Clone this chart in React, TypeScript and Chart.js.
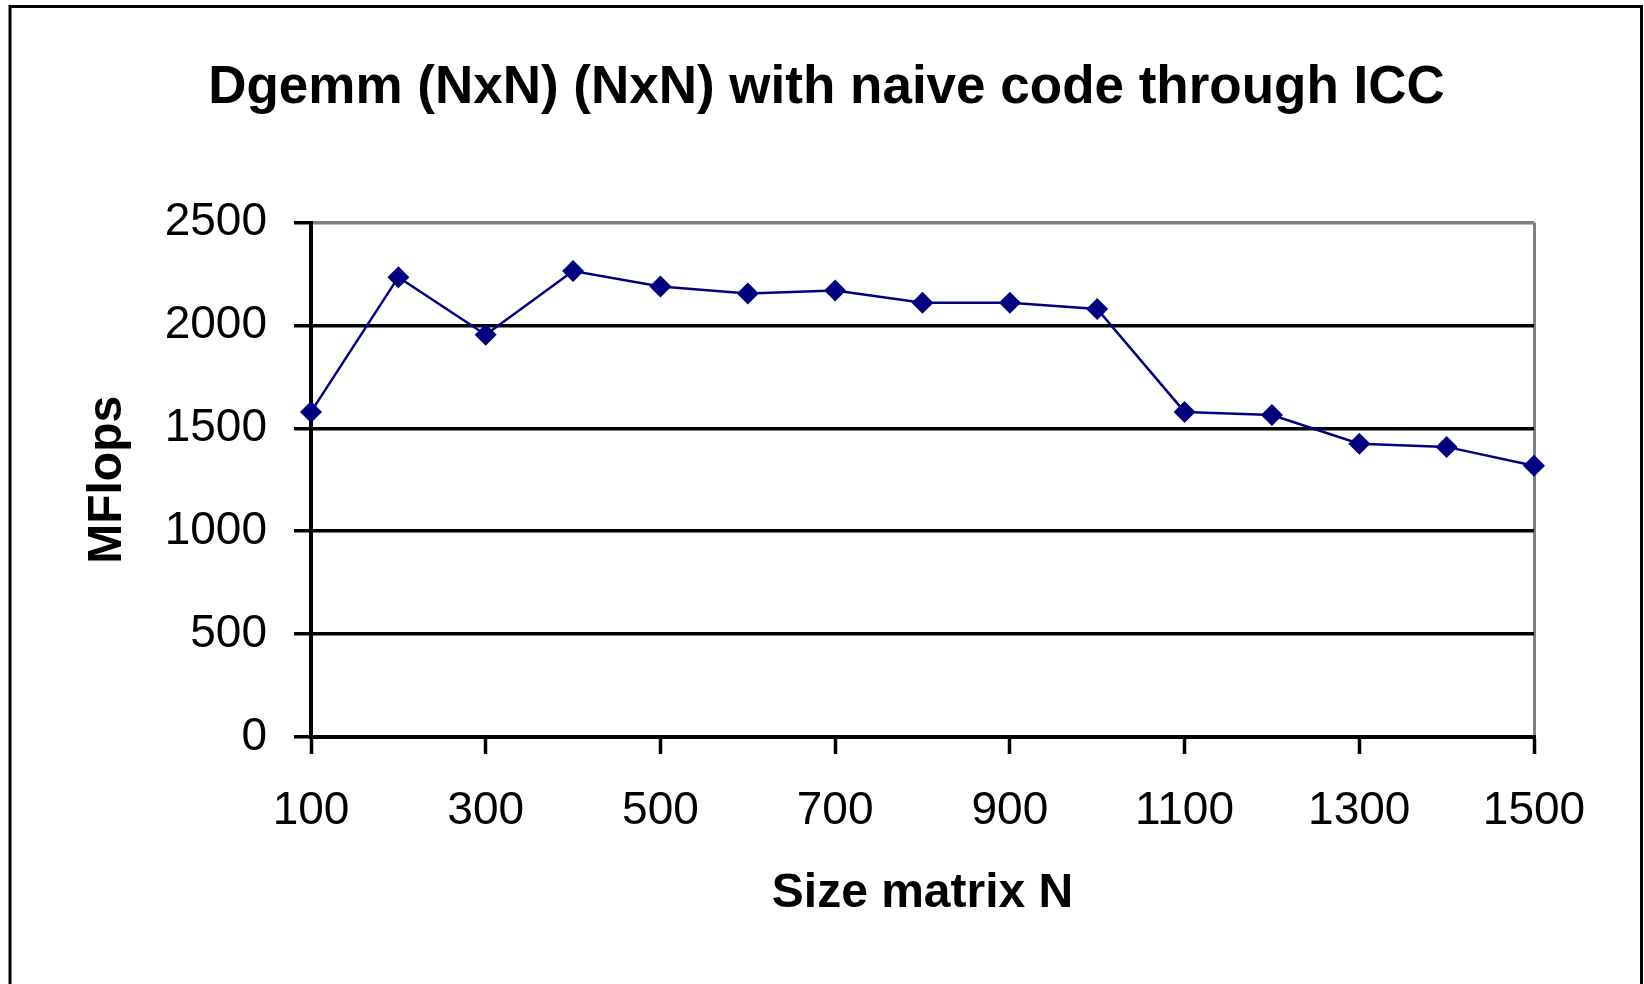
import { useEffect, useRef } from "react";
import { Chart, registerables } from "chart.js";

Chart.register(...registerables);

// Matrix size N (x) and measured MFlops (y)
const sizes = [100, 200, 300, 400, 500, 600, 700, 800, 900, 1000, 1100, 1200, 1300, 1400, 1500];
const mflops = [1580, 2235, 1955, 2265, 2190, 2155, 2170, 2110, 2110, 2080, 1580, 1565, 1425, 1410, 1318];

const xRange = [100, 1500];
const xStep = 200;
const yRange = [0, 2500];
const yStep = 500;

const chartTitle = "Dgemm (NxN) (NxN) with naive code through ICC";
const xAxisTitle = "Size matrix N";
const yAxisTitle = "MFlops";

const FONT = "'Liberation Sans', Arial, sans-serif";
const NAVY = "#000080";
const GRAY = "#808080";
const W = 1644;
const H = 984;

// Outer black frame around the whole chart (open at the bottom)
const framePlugin = {
  id: "frame",
  afterDraw(chart: any) {
    const ctx = chart.ctx;
    ctx.save();
    ctx.strokeStyle = "#000";
    ctx.lineWidth = 3;
    ctx.beginPath();
    ctx.moveTo(10, chart.height);
    ctx.lineTo(10, 6.5);
    ctx.lineTo(1641.5, 6.5);
    ctx.lineTo(1641.5, chart.height);
    ctx.stroke();
    ctx.restore();
  },
};

export default function App() {
  const canvasRef = useRef<HTMLCanvasElement | null>(null);

  useEffect(() => {
    if (!canvasRef.current) return;
    const chart = new Chart(canvasRef.current, {
      type: "line",
      data: {
        datasets: [
          {
            label: yAxisTitle,
            data: sizes.map((n, i) => ({ x: n, y: mflops[i] })),
            borderColor: NAVY,
            backgroundColor: NAVY,
            borderWidth: 2.5,
            pointStyle: "rectRot",
            pointRadius: 11,
            pointBorderWidth: 0,
            pointBackgroundColor: NAVY,
            tension: 0,
            clip: false as any,
          },
        ],
      },
      options: {
        animation: false,
        responsive: false,
        devicePixelRatio: 1,
        layout: { padding: { left: 119, right: 110, top: 0, bottom: 0 } },
        plugins: {
          legend: { display: false },
          tooltip: { enabled: false },
          title: {
            display: true,
            text: chartTitle,
            color: "#000",
            font: { family: FONT, size: 53, weight: "bold" },
            padding: { top: 57, bottom: 102 },
          },
        },
        scales: {
          x: {
            type: "linear",
            min: xRange[0],
            max: xRange[1],
            ticks: {
              stepSize: xStep,
              color: "#000",
              font: { family: FONT, size: 46 },
              padding: 30,
              maxRotation: 0,
              autoSkip: false,
              callback: (v: any) => String(v),
            },
            grid: {
              color: (c: any) => (c.tick && c.tick.value === xRange[1] ? GRAY : "rgba(0,0,0,0)"),
              lineWidth: 3,
              tickColor: "#000",
              tickLength: 17,
              tickWidth: 3.5,
            },
            border: { color: "#000", width: 4 },
            title: {
              display: true,
              text: xAxisTitle,
              color: "#000",
              font: { family: FONT, size: 48, weight: "bold" },
              padding: { top: 0, bottom: 61 },
            },
            afterFit: (s: any) => {
              s.height = 247;
            },
          },
          y: {
            min: yRange[0],
            max: yRange[1],
            ticks: {
              stepSize: yStep,
              color: "#000",
              font: { family: FONT, size: 46 },
              padding: 27,
              callback: (v: any) => String(v),
            },
            grid: {
              color: (c: any) => (c.tick && c.tick.value === yRange[1] ? GRAY : "#000"),
              lineWidth: 3.5,
              tickColor: "#000",
              tickLength: 17,
              tickWidth: 3.5,
            },
            border: { color: "#000", width: 4 },
            title: {
              display: true,
              text: yAxisTitle,
              color: "#000",
              font: { family: FONT, size: 48, weight: "bold" },
              padding: { top: -40, bottom: 0 },
            },
            afterFit: (s: any) => {
              s.width = 192;
            },
          },
        },
      },
      plugins: [framePlugin],
    } as any);
    return () => chart.destroy();
  }, []);

  return (
    <div style={{ position: "absolute", left: 0, top: 0, width: W, height: H, background: "#fff" }}>
      <canvas ref={canvasRef} width={W} height={H} style={{ display: "block" }} />
    </div>
  );
}
